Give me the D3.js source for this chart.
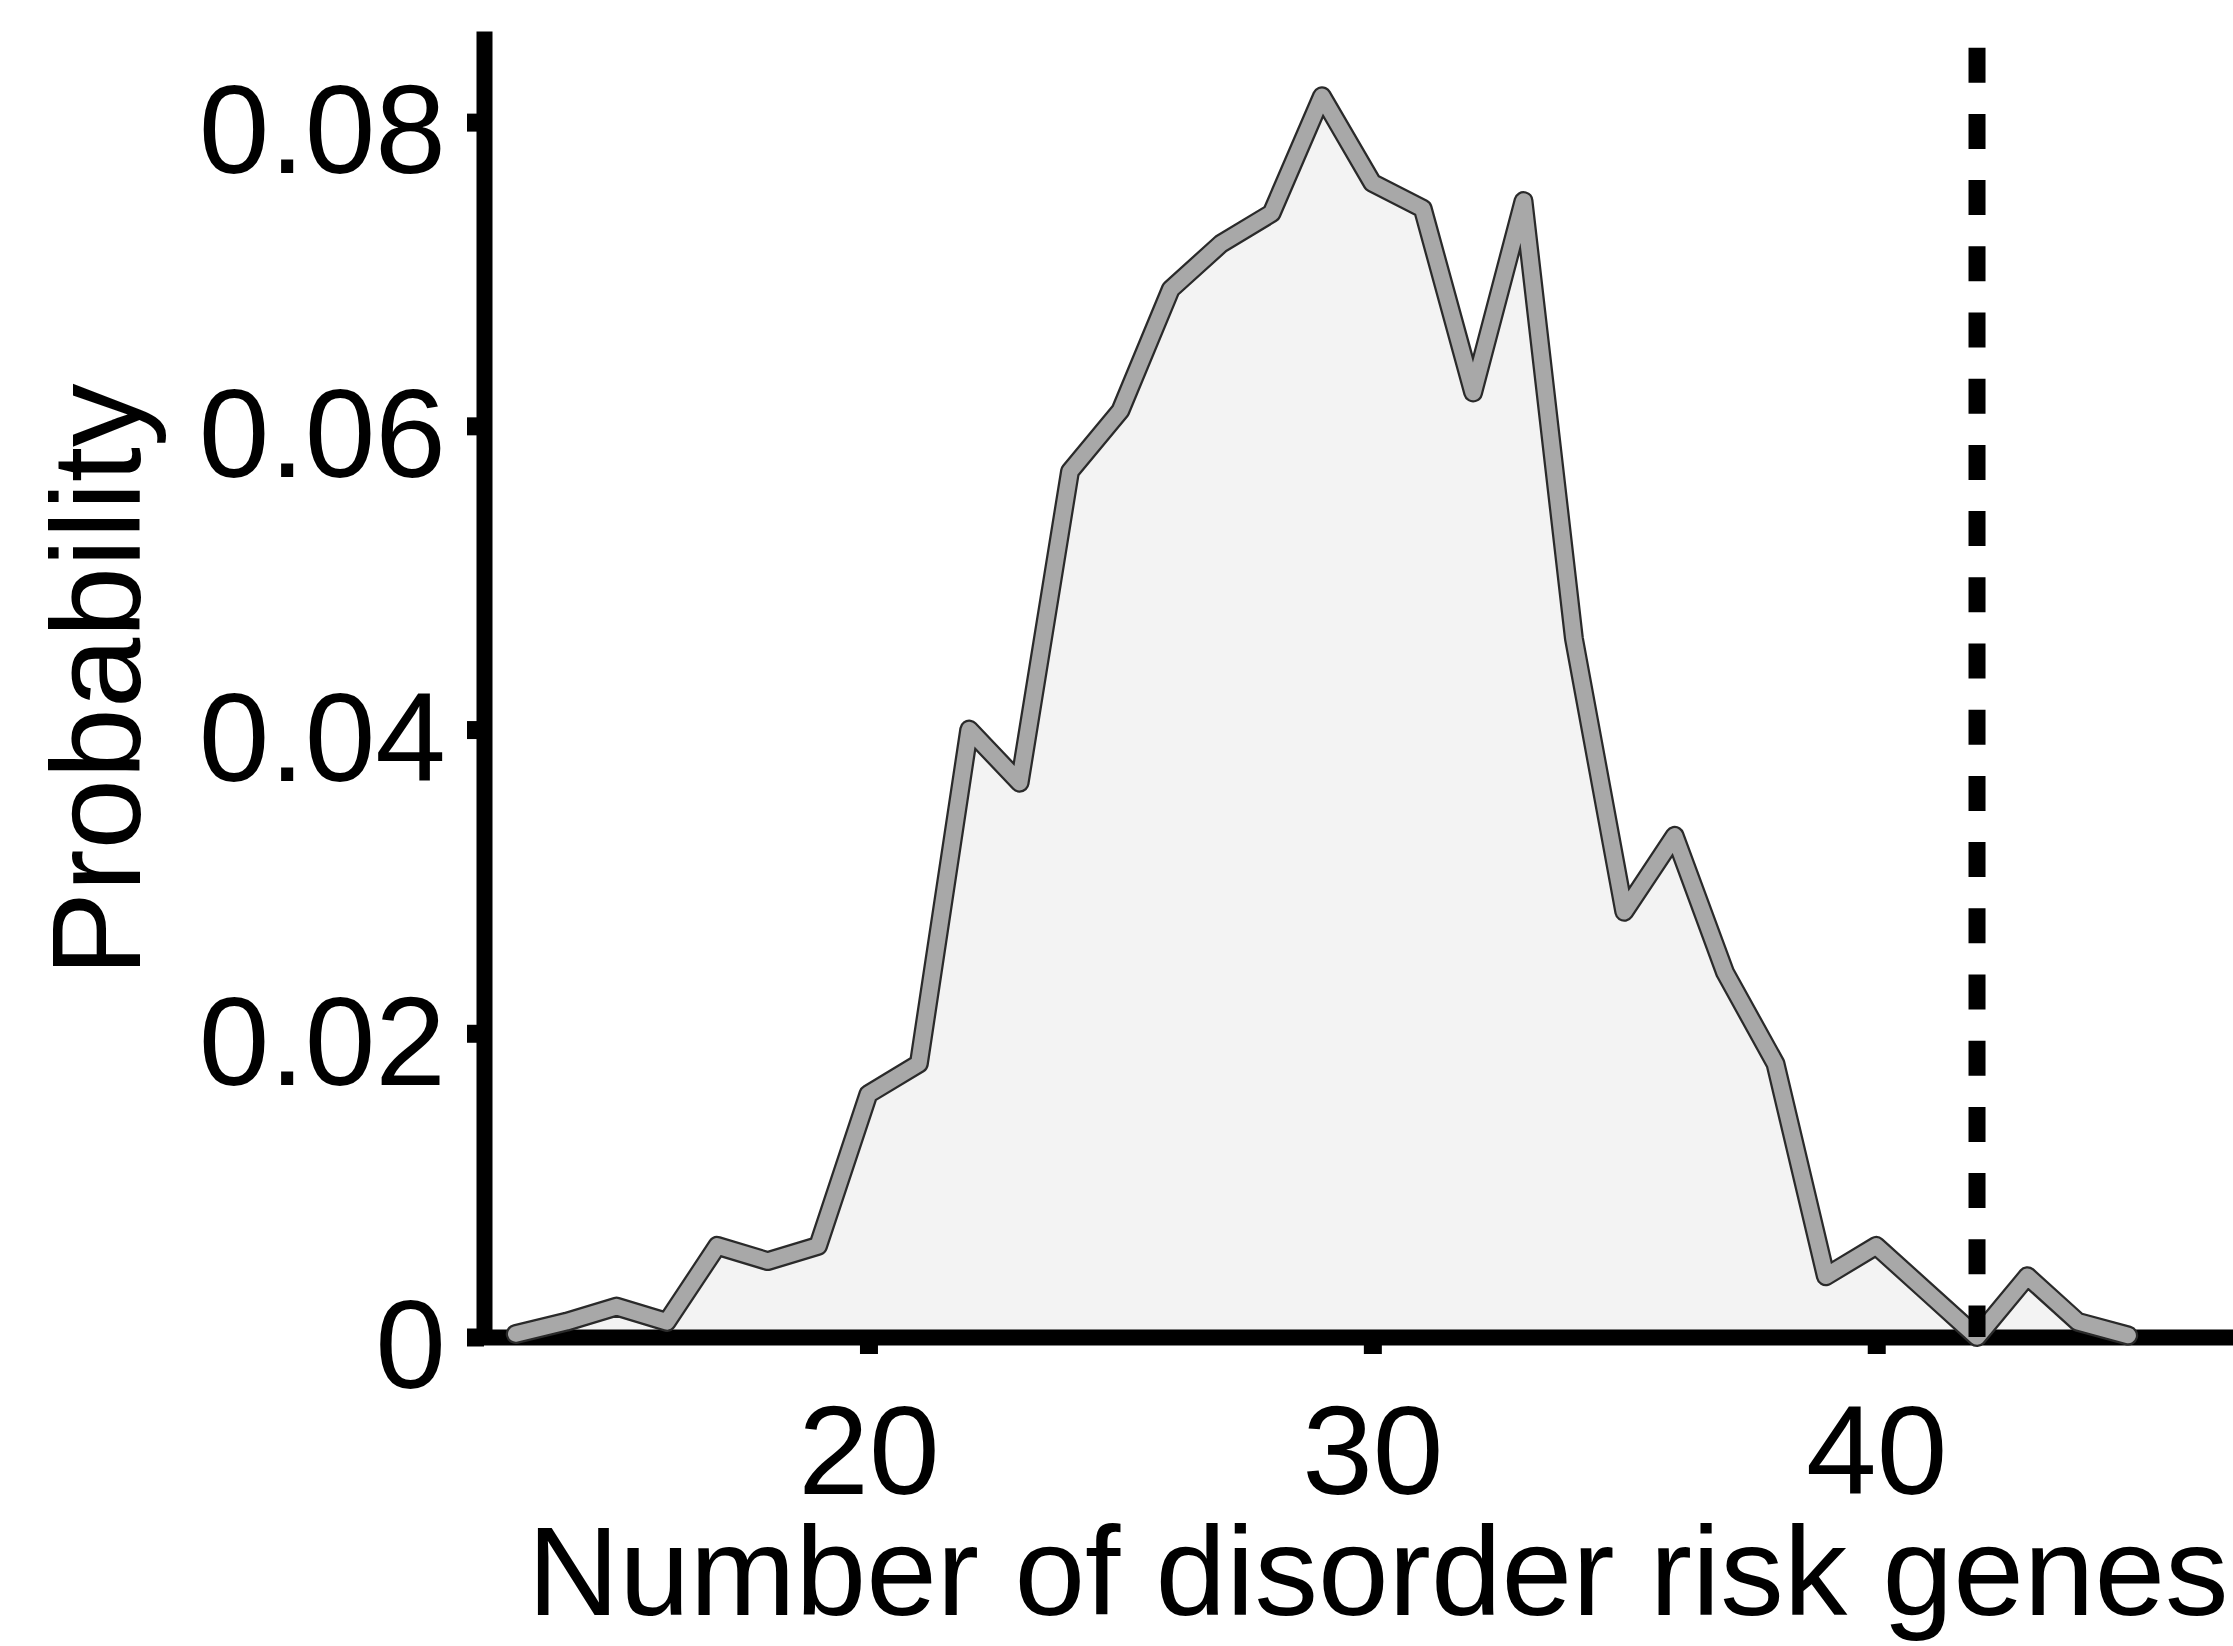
<!DOCTYPE html>
<html>
<head>
<meta charset="utf-8">
<script src="https://cdn.jsdelivr.net/npm/d3@7"></script>
<style>
  html, body { margin: 0; padding: 0; background: #ffffff; }
  svg { display: block; }
  text { font-family: "Liberation Sans", Arial, Helvetica, sans-serif; fill: #000; }
</style>
</head>
<body>
<script>
// ---- data ----
const geneCounts = [13,14,15,16,17,18,19,20,21,22,23,24,25,26,27,28,29,30,31,32,33,34,35,36,37,38,39,40,41,42,43,44,45];
const probabilities = [0.0002,0.001,0.002,0.001,0.006,0.005,0.006,0.016,0.018,0.040,0.0365,0.057,0.061,0.069,0.072,0.074,0.0817,0.076,0.0743,0.0622,0.0748,0.046,0.028,0.033,0.024,0.018,0.004,0.006,0.003,0,0.004,0.001,0.0001];
const observedCount = 42;
const observedLineTop = 0.0849;
const xTicks = [20, 30, 40];
const yTicks = [0, 0.02, 0.04, 0.06, 0.08];
const yTickLabels = ["0", "0.02", "0.04", "0.06", "0.08"];
const xTitle = "Number of disorder risk genes";
const yTitle = "Probability";

// ---- layout ----
const W = 2233, H = 1646;
const FS = 127;
const svg = d3.select("body").append("svg").attr("width", W).attr("height", H);

const x = d3.scaleLinear().domain([12.37, 47.1]).range([484, 2234]);
const y = d3.scaleLinear().domain([0, 0.086]).range([1337, 31]);

const pts = geneCounts.map((g, i) => ({ g, p: probabilities[i] }));

// area fill
svg.append("path")
  .datum(pts)
  .attr("d", d3.area().x(d => x(d.g)).y0(y(0)).y1(d => y(d.p)))
  .attr("fill", "#f3f3f3");

// axes
const yAxis = d3.axisLeft(y).tickValues(yTicks)
  .tickFormat((d, i) => yTickLabels[i])
  .tickSize(17).tickSizeOuter(0).tickPadding(21);
const gy = svg.append("g").attr("transform", `translate(${x(12.37)},0)`).call(yAxis);
gy.attr("font-family", null).attr("font-size", null);
gy.select(".domain").attr("stroke", "#000").attr("stroke-width", 16);
gy.selectAll(".tick line").attr("stroke", "#000").attr("stroke-width", 18);
gy.selectAll(".tick text").attr("font-size", FS).attr("dy", "0.40em").attr("fill", "#000");

const xAxis = d3.axisBottom(x).tickValues(xTicks).tickFormat(d3.format("d"))
  .tickSize(17).tickSizeOuter(0).tickPadding(50);
const gx = svg.append("g").attr("transform", `translate(0,${y(0)})`).call(xAxis);
gx.attr("font-family", null).attr("font-size", null);
gx.select(".domain").attr("stroke", "#000").attr("stroke-width", 16).attr("stroke-linecap", "square");
gx.selectAll(".tick line").attr("stroke", "#000").attr("stroke-width", 18);
gx.selectAll(".tick text").attr("font-size", FS).attr("fill", "#000");

// distribution line: dark outline + gray core
const line = d3.line().x(d => x(d.g)).y(d => y(d.p));
svg.append("path").datum(pts).attr("d", line)
  .attr("fill", "none").attr("stroke", "#2a2a2a").attr("stroke-width", 20)
  .attr("stroke-linejoin", "round").attr("stroke-linecap", "round");
svg.append("path").datum(pts).attr("d", line)
  .attr("fill", "none").attr("stroke", "#a8a8a8").attr("stroke-width", 15.5)
  .attr("stroke-linejoin", "round").attr("stroke-linecap", "round");

// observed value dashed line
svg.append("line")
  .attr("x1", x(observedCount)).attr("x2", x(observedCount))
  .attr("y1", y(observedLineTop)).attr("y2", y(0))
  .attr("stroke", "#000").attr("stroke-width", 17)
  .attr("stroke-dasharray", "35 31.2");

// axis titles
svg.append("text")
  .attr("x", 1378).attr("y", 1615)
  .attr("text-anchor", "middle").attr("font-size", FS)
  .text(xTitle);
svg.append("text")
  .attr("transform", "translate(140,680) rotate(-90)")
  .attr("text-anchor", "middle").attr("font-size", FS)
  .text(yTitle);
</script>
</body>
</html>
